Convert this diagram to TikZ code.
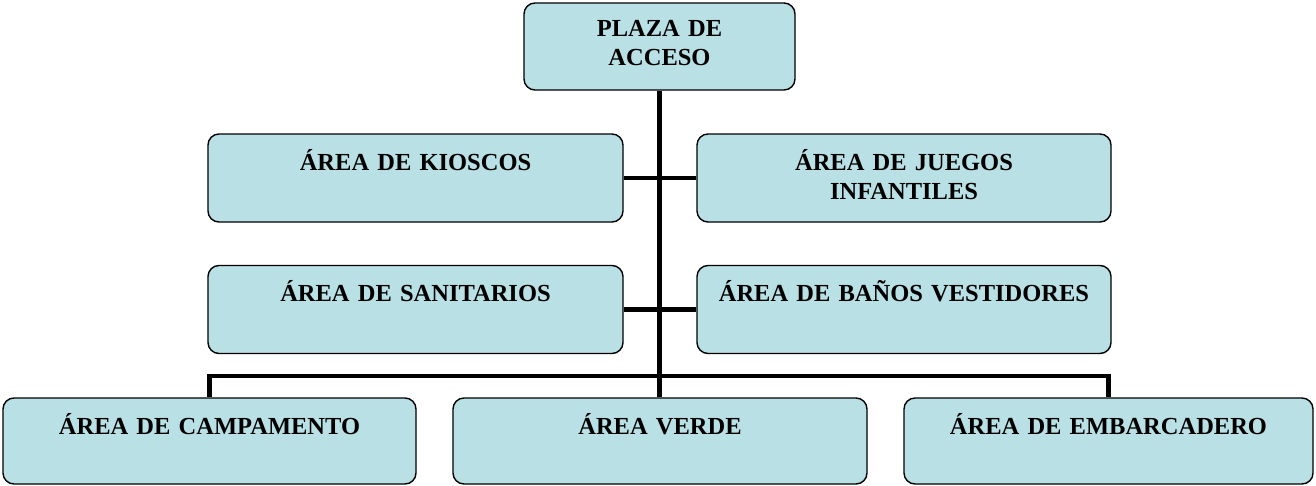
\documentclass[tikz,border=0pt]{standalone}
\usepackage{fontspec}
\setmainfont{Liberation Serif}
\usetikzlibrary{positioning}
\definecolor{areafill}{RGB}{185,224,228}

\begin{document}
\begin{tikzpicture}[x=1pt, y=-1pt,
  area/.style={draw, line width=1.4pt, fill=areafill, rounded corners=11pt,
    inner xsep=0pt, inner ysep=0pt, align=center,
    text height=36pt, text depth=52pt,
    font=\fontsize{24.5}{29.5}\selectfont\bfseries},
  link/.style={line width=4.5pt}]
  \useasboundingbox (0,0) rectangle (1316,485);
  % boxes
  \node[area, text width=271pt, text height=33pt, text depth=54pt] (plaza) at (659.5,46.5) {PLAZA DE\\ACCESO};
  \node[area, text width=415pt] (kioscos) at (415.5,178) {ÁREA DE KIOSCOS};
  \node[area, text width=414pt] (juegos) at (904,178) {ÁREA DE JUEGOS\\INFANTILES};
  \node[area, text width=415pt] (sanitarios) at (415.5,309.5) {ÁREA DE SANITARIOS};
  \node[area, text width=414pt] (banos) at (904,309.5) {ÁREA DE BAÑOS VESTIDORES};
  \node[area, text width=413pt, text depth=50pt] (campamento) at (209.5,441) {ÁREA DE CAMPAMENTO};
  \node[area, text width=414pt, text depth=50pt] (verde) at (660,441) {ÁREA VERDE};
  \node[area, text width=409pt, text depth=50pt] (embarcadero) at (1108.5,441) {ÁREA DE EMBARCADERO};
  % connectors
  \coordinate (bar) at (659.5,376);
  \draw[link] (plaza.south) -- (plaza.south |- verde.north);
  \draw[link] (kioscos.east) -- (juegos.west);
  \draw[link] (sanitarios.east) -- (banos.west);
  \draw[link] (campamento.north) |- (bar) -| (embarcadero.north);
\end{tikzpicture}
\end{document}
